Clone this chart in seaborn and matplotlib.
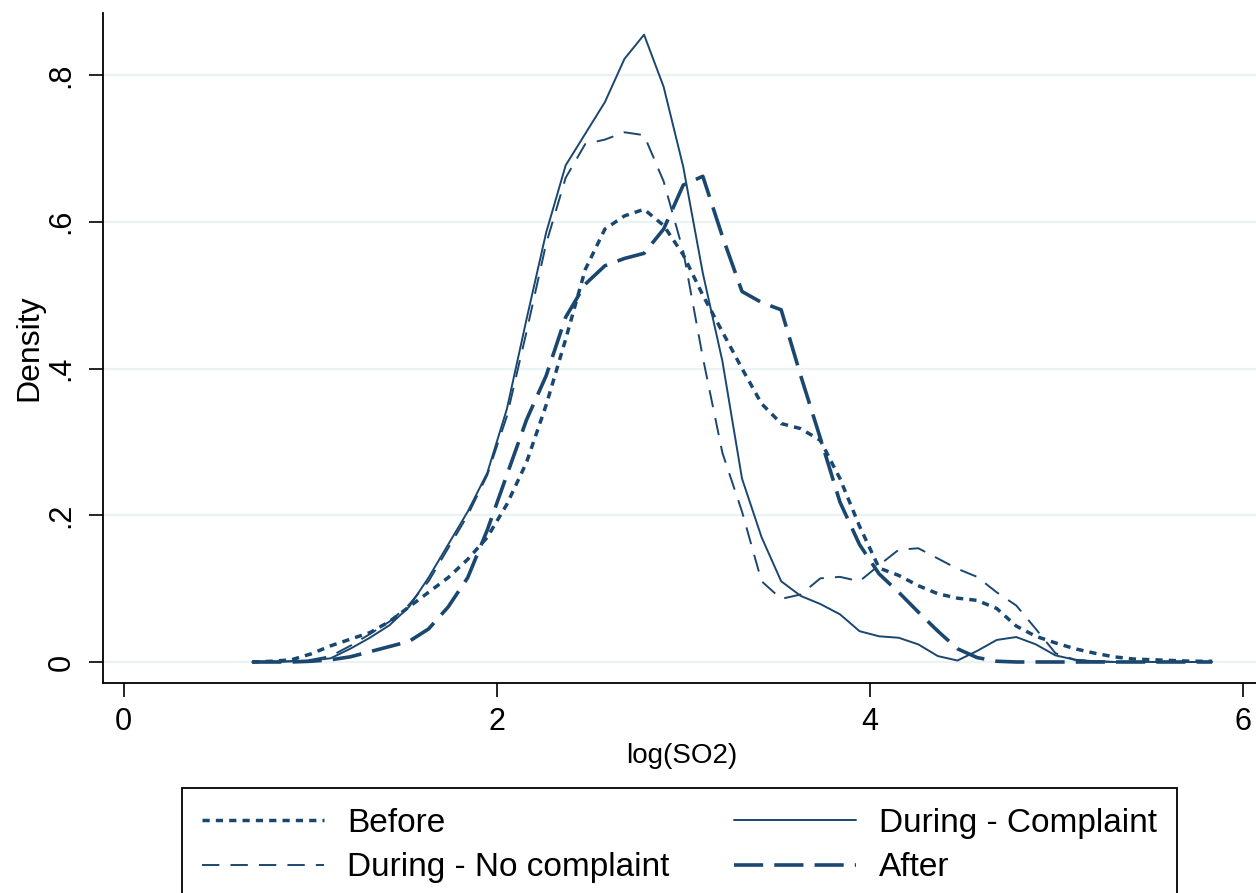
import matplotlib
matplotlib.use('Agg')
import matplotlib.pyplot as plt
import seaborn as sns

# kernel density curves (Stata kdensity, 50 points)
log_so2 = [0.690, 0.795, 0.900, 1.005, 1.110, 1.215, 1.320, 1.425, 1.530, 1.635,
           1.740, 1.845, 1.950, 2.055, 2.160, 2.265, 2.370, 2.475, 2.580, 2.685,
           2.790, 2.895, 3.000, 3.105, 3.210, 3.315, 3.420, 3.525, 3.630, 3.735,
           3.840, 3.945, 4.050, 4.155, 4.260, 4.365, 4.470, 4.575, 4.680, 4.785,
           4.890, 4.995, 5.100, 5.205, 5.310, 5.415, 5.520, 5.625, 5.730, 5.835]

before = [0.000, 0.001, 0.003, 0.011, 0.022, 0.031, 0.040, 0.055, 0.075, 0.095,
          0.115, 0.140, 0.170, 0.215, 0.272, 0.350, 0.440, 0.535, 0.590, 0.608,
          0.617, 0.595, 0.555, 0.500, 0.450, 0.400, 0.352, 0.325, 0.318, 0.302,
          0.250, 0.185, 0.128, 0.118, 0.104, 0.093, 0.087, 0.084, 0.073, 0.049,
          0.035, 0.026, 0.018, 0.012, 0.007, 0.004, 0.003, 0.002, 0.001, 0.001]

during_no_complaint = [0.000, 0.000, 0.001, 0.003, 0.008, 0.022, 0.038, 0.055, 0.078, 0.110,
                       0.155, 0.200, 0.255, 0.335, 0.450, 0.570, 0.660, 0.706, 0.712, 0.722,
                       0.718, 0.655, 0.560, 0.415, 0.285, 0.205, 0.110, 0.086, 0.092, 0.114,
                       0.116, 0.110, 0.132, 0.153, 0.155, 0.141, 0.127, 0.116, 0.095, 0.077,
                       0.045, 0.012, 0.003, 0.001, 0.000, 0.000, 0.000, 0.000, 0.000, 0.000]

during_complaint = [0.000, 0.000, 0.001, 0.002, 0.005, 0.018, 0.033, 0.050, 0.075, 0.115,
                    0.160, 0.205, 0.258, 0.345, 0.467, 0.585, 0.677, 0.720, 0.763, 0.822,
                    0.855, 0.784, 0.675, 0.530, 0.410, 0.250, 0.170, 0.110, 0.090, 0.079,
                    0.065, 0.042, 0.035, 0.033, 0.024, 0.008, 0.002, 0.015, 0.030, 0.034,
                    0.024, 0.009, 0.003, 0.001, 0.000, 0.000, 0.000, 0.000, 0.000, 0.000]

after = [0.000, 0.000, 0.000, 0.001, 0.003, 0.007, 0.014, 0.021, 0.028, 0.045,
         0.075, 0.115, 0.180, 0.255, 0.330, 0.390, 0.470, 0.515, 0.540, 0.550,
         0.557, 0.590, 0.650, 0.662, 0.580, 0.505, 0.490, 0.480, 0.390, 0.305,
         0.218, 0.160, 0.120, 0.095, 0.068, 0.042, 0.018, 0.006, 0.001, 0.000,
         0.000, 0.000, 0.000, 0.000, 0.000, 0.000, 0.000, 0.000, 0.000, 0.000]

y_ticks = [0, 0.2, 0.4, 0.6, 0.8]
y_labels = ['0', '.2', '.4', '.6', '.8']
x_ticks = [0, 2, 4, 6]
x_labels = ['0', '2', '4', '6']

NAVY = '#1a476f'
GRID = '#eaf2f3'

sns.set_style('white')
plt.rcParams['font.family'] = ['Liberation Sans', 'DejaVu Sans']
plt.rcParams['lines.scale_dashes'] = False
plt.rcParams['text.color'] = 'black'
plt.rcParams['axes.labelcolor'] = 'black'

fig = plt.figure(figsize=(12.56, 8.93), dpi=100)
ax = fig.add_axes([0.082, 0.2352, 0.918, 0.7502])

# legend order fills column-wise: Before / No complaint | Complaint / After
series = [
  ('Before', before, 2.5, (0, (5.2, 4.4))),
  ('During - No complaint', during_no_complaint, 1.4, (0, (12.5, 8.0))),
  ('During - Complaint', during_complaint, 1.4, '-'),
  ('After', after, 2.6, (0, (21.0, 8.0))),
]
for name, dens, lw, ls in series:
  sns.lineplot(x=log_so2, y=dens, ax=ax, color=NAVY, linewidth=lw,
               linestyle=ls, label=name, legend=False, errorbar=None)

ax.set_xlim(-0.110, 6.07)
ax.set_ylim(-0.0286, 0.8845)
ax.set_xticks(x_ticks)
ax.set_xticklabels(x_labels, fontsize=22)
ax.set_yticks(y_ticks)
ax.set_yticklabels(y_labels, fontsize=22, rotation=90, va='center')

ax.yaxis.grid(True, color=GRID, linewidth=1.6)
ax.xaxis.grid(False)
ax.set_axisbelow(True)

for side in ['top', 'right']:
  ax.spines[side].set_visible(False)
for side in ['left', 'bottom']:
  ax.spines[side].set_color('black')
  ax.spines[side].set_linewidth(1.3)
ax.tick_params(axis='both', direction='out', length=10, width=1.2, color='black',
               labelcolor='black', left=True, bottom=True)
ax.tick_params(axis='y', pad=9)
ax.tick_params(axis='x', pad=7)

ax.set_xlabel('log(SO2)', fontsize=20)
ax.xaxis.set_label_coords(0.502, -0.089)
ax.set_ylabel('Density', fontsize=23, va='center')
ax.yaxis.set_label_coords(-0.0642, 0.5)

handles, labels = ax.get_legend_handles_labels()
leg = fig.legend(handles, labels, loc='upper left',
                 bbox_to_anchor=(182 / 1256, 1 - 788 / 893), ncol=2,
                 frameon=True, fancybox=False, edgecolor='black', fontsize=24,
                 handlelength=3.66, handletextpad=0.69, columnspacing=1.95,
                 borderpad=0.6, labelspacing=0.4, borderaxespad=0)
leg.get_frame().set_linewidth(1.3)
leg.get_frame().set_alpha(1)

fig.savefig('out.png', dpi=100)
